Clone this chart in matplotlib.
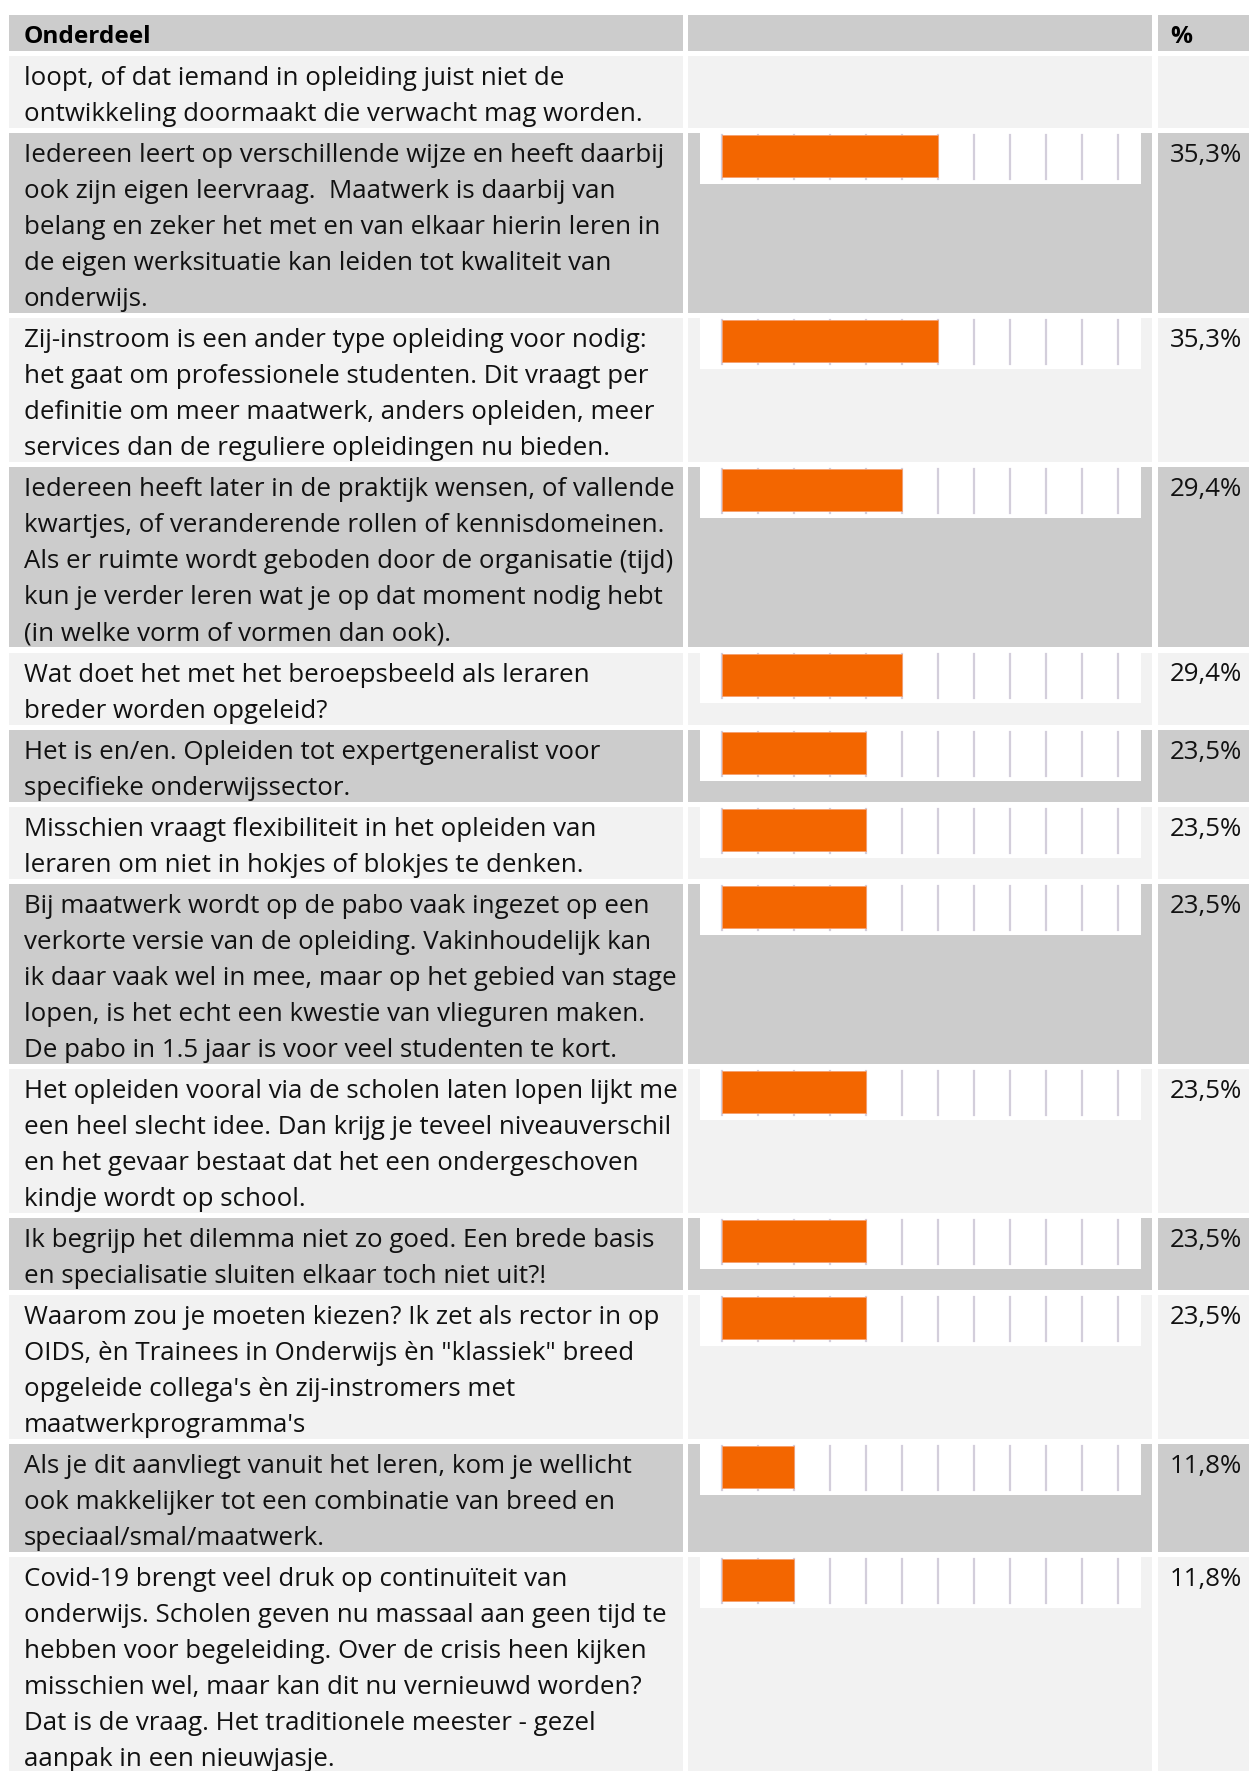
import matplotlib
matplotlib.use("Agg")
import matplotlib.pyplot as plt
from matplotlib.patches import Rectangle

# ---------------- data ----------------
header_labels = ["Onderdeel", "", "%"]

answers = [
    ["loopt, of dat iemand in opleiding juist niet de",
     "ontwikkeling doormaakt die verwacht mag worden."],
    ["Iedereen leert op verschillende wijze en heeft daarbij",
     "ook zijn eigen leervraag.  Maatwerk is daarbij van",
     "belang en zeker het met en van elkaar hierin leren in",
     "de eigen werksituatie kan leiden tot kwaliteit van",
     "onderwijs."],
    ["Zij-instroom is een ander type opleiding voor nodig:",
     "het gaat om professionele studenten. Dit vraagt per",
     "definitie om meer maatwerk, anders opleiden, meer",
     "services dan de reguliere opleidingen nu bieden."],
    ["Iedereen heeft later in de praktijk wensen, of vallende",
     "kwartjes, of veranderende rollen of kennisdomeinen.",
     "Als er ruimte wordt geboden door de organisatie (tijd)",
     "kun je verder leren wat je op dat moment nodig hebt",
     "(in welke vorm of vormen dan ook)."],
    ["Wat doet het met het beroepsbeeld als leraren",
     "breder worden opgeleid?"],
    ["Het is en/en. Opleiden tot expertgeneralist voor",
     "specifieke onderwijssector."],
    ["Misschien vraagt flexibiliteit in het opleiden van",
     "leraren om niet in hokjes of blokjes te denken."],
    ["Bij maatwerk wordt op de pabo vaak ingezet op een",
     "verkorte versie van de opleiding. Vakinhoudelijk kan",
     "ik daar vaak wel in mee, maar op het gebied van stage",
     "lopen, is het echt een kwestie van vlieguren maken.",
     "De pabo in 1.5 jaar is voor veel studenten te kort."],
    ["Het opleiden vooral via de scholen laten lopen lijkt me",
     "een heel slecht idee. Dan krijg je teveel niveauverschil",
     "en het gevaar bestaat dat het een ondergeschoven",
     "kindje wordt op school."],
    ["Ik begrijp het dilemma niet zo goed. Een brede basis",
     "en specialisatie sluiten elkaar toch niet uit?!"],
    ["Waarom zou je moeten kiezen? Ik zet als rector in op",
     "OIDS, èn Trainees in Onderwijs èn \"klassiek\" breed",
     "opgeleide collega's èn zij-instromers met",
     "maatwerkprogramma's"],
    ["Als je dit aanvliegt vanuit het leren, kom je wellicht",
     "ook makkelijker tot een combinatie van breed en",
     "speciaal/smal/maatwerk."],
    ["Covid-19 brengt veel druk op continuïteit van",
     "onderwijs. Scholen geven nu massaal aan geen tijd te",
     "hebben voor begeleiding. Over de crisis heen kijken",
     "misschien wel, maar kan dit nu vernieuwd worden?",
     "Dat is de vraag. Het traditionele meester - gezel",
     "aanpak in een nieuwjasje."],
]

percentages = [None, 35.3, 35.3, 29.4, 29.4, 23.5, 23.5, 23.5, 23.5,
               23.5, 23.5, 11.8, 11.8]

n_respondents = 17
n_gridlines = 12

# ---------------- style ----------------
W, H = 1249, 1771
FONT = "Open Sans"
FS = 18.6
DARK = "#cccccc"
LIGHT = "#f2f2f2"
ORANGE = "#f36600"
GRID = "#d3cedb"

LINE_H = 36.0
GAP = 5.1
TOP = 15.0
BASE_OFF = 29.0

COL1 = (9, 683)
COL2 = (688, 1152)
COL3 = (1158, 1260)
TEXT_X = 24
PCT_X = 1170
BOX_X = (700, 1141)
BOX_H = 51
AX0 = 721.7          # pixel of 0 %
PX_PER_PCT = 36.0 / (100.0 / n_respondents)

fig = plt.figure(figsize=(W / 100, H / 100), dpi=100)
fig.patch.set_facecolor("white")
bg = fig.add_axes([0, 0, 1, 1])
bg.set_xlim(0, W)
bg.set_ylim(H, 0)
bg.axis("off")


def cells(y0, h, color):
    for (a, b) in (COL1, COL2, COL3):
        bg.add_patch(Rectangle((a, y0), b - a, h, facecolor=color,
                               edgecolor="none", zorder=0))


# header
cells(TOP, LINE_H, DARK)
bg.text(TEXT_X, TOP + BASE_OFF - 1, header_labels[0], fontsize=FS - 1.0,
        family=FONT, fontweight="bold", va="baseline", ha="left")
bg.text(PCT_X, TOP + BASE_OFF - 1, header_labels[2], fontsize=FS - 1.0,
        family=FONT, fontweight="bold", va="baseline", ha="left")

y = TOP + LINE_H + GAP
step = 100.0 / n_respondents
grid_vals = [k * step for k in range(n_gridlines)]
xmin = -(AX0 - BOX_X[0]) / PX_PER_PCT
xmax = (BOX_X[1] - AX0) / PX_PER_PCT

for i, (lines, pct) in enumerate(zip(answers, percentages)):
    h = len(lines) * LINE_H
    color = LIGHT if i % 2 == 0 else DARK
    cells(y, h, color)
    for j, ln in enumerate(lines):
        bg.text(TEXT_X, y + BASE_OFF + j * LINE_H, ln, fontsize=FS,
                family=FONT, va="baseline", ha="left", color="#111111")
    if pct is not None:
        bg.text(PCT_X, y + BASE_OFF, f"{pct:.1f}".replace(".", ",") + "%",
                fontsize=FS, family=FONT, va="baseline", ha="left",
                color="#111111")
        ax = fig.add_axes([BOX_X[0] / W, 1 - (y + BOX_H) / H,
                           (BOX_X[1] - BOX_X[0]) / W, BOX_H / H])
        ax.set_facecolor("white")
        ax.set_xlim(xmin, xmax)
        ax.set_ylim(BOX_H, 0)
        for gv in grid_vals:
            ax.axvline(gv, ymin=1 - 46 / BOX_H, ymax=1 - 2 / BOX_H,
                       color=GRID, lw=1.6, zorder=1)
        ax.barh([23.0], [pct], height=42, left=0, color=ORANGE,
                edgecolor="#f5a070", linewidth=0.6, zorder=2)
        ax.set_xticks([])
        ax.set_yticks([])
        for s in ax.spines.values():
            s.set_visible(False)
    y += h + GAP

fig.savefig("out.png", dpi=100, facecolor="white")
